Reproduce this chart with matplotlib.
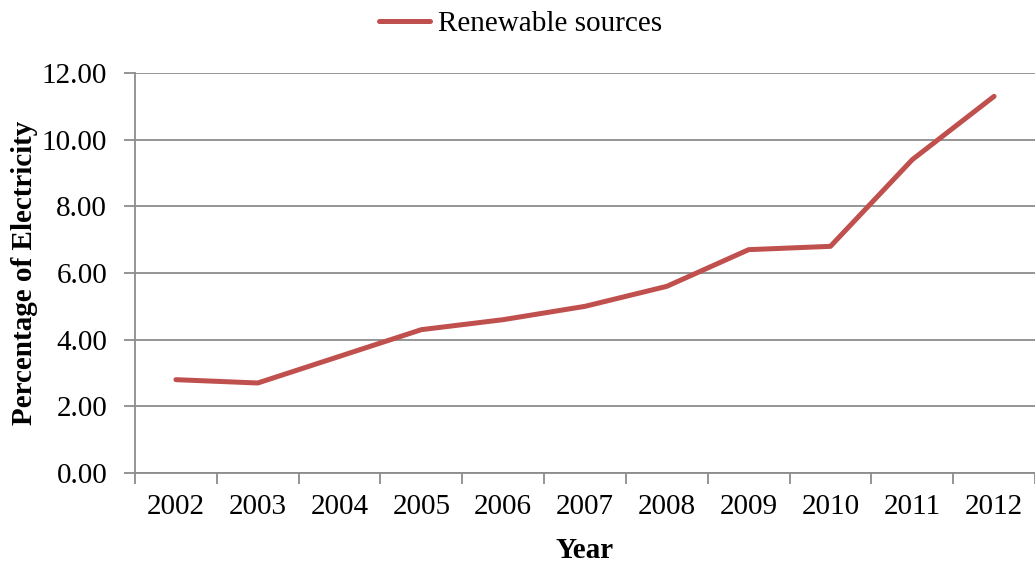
import matplotlib
matplotlib.use("Agg")
import matplotlib.pyplot as plt
import numpy as np

years = ["2002", "2003", "2004", "2005", "2006", "2007", "2008", "2009", "2010", "2011", "2012"]
renewable = [2.8, 2.7, 3.5, 4.3, 4.6, 5.0, 5.6, 6.7, 6.8, 9.4, 11.3]
yticks = [0, 2, 4, 6, 8, 10, 12]

plt.rcParams['font.family'] = ['Liberation Serif', 'DejaVu Serif']

fig = plt.figure(figsize=(10.35, 5.62), dpi=100)
ax = fig.add_axes([135/1035, 1 - 473/562, 1 - 135/1035, (473 - 73)/562])

x = np.arange(len(years))
line, = ax.plot(x, renewable, color="#C0504D", lw=3.6, solid_capstyle="round",
                solid_joinstyle="round", label="Renewable sources", zorder=3)

grid_c = "#8C8C8C"
fs = 21
ax.set_ylim(0, 12)
ax.set_xlim(-0.5, len(years) - 0.5)
ax.set_yticks(yticks)
ax.set_yticklabels([f"{v:.2f}" for v in yticks], fontsize=fs)
ax.yaxis.grid(True, color=grid_c, lw=1.3)
ax.set_axisbelow(True)

# category boundaries as major ticks, labels at centers as minor ticks
ax.set_xticks(np.arange(-0.5, len(years) + 0.5, 1))
ax.set_xticklabels([])
ax.set_xticks(x, minor=True)
ax.set_xticklabels(years, minor=True, fontsize=fs)
ax.tick_params(axis="x", which="major", length=8, color=grid_c, width=1.3)
ax.tick_params(axis="x", which="minor", length=0, pad=15)
ax.tick_params(axis="y", length=8, color=grid_c, width=1.3, pad=12)

for s in ["top", "right"]:
    ax.spines[s].set_visible(False)
for s in ["left", "bottom"]:
    ax.spines[s].set_color(grid_c)
    ax.spines[s].set_linewidth(1.3)

ax.set_xlabel("Year", fontsize=fs, fontweight="bold", labelpad=12)
ax.set_ylabel("Percentage of Electricity", fontsize=fs, fontweight="bold", labelpad=3)

fig.legend(handles=[line], loc="upper center", bbox_to_anchor=(0.503, 1.028),
           frameon=False, fontsize=fs, handlelength=1.75, handletextpad=0.25)

fig.savefig("out.png", dpi=100)
